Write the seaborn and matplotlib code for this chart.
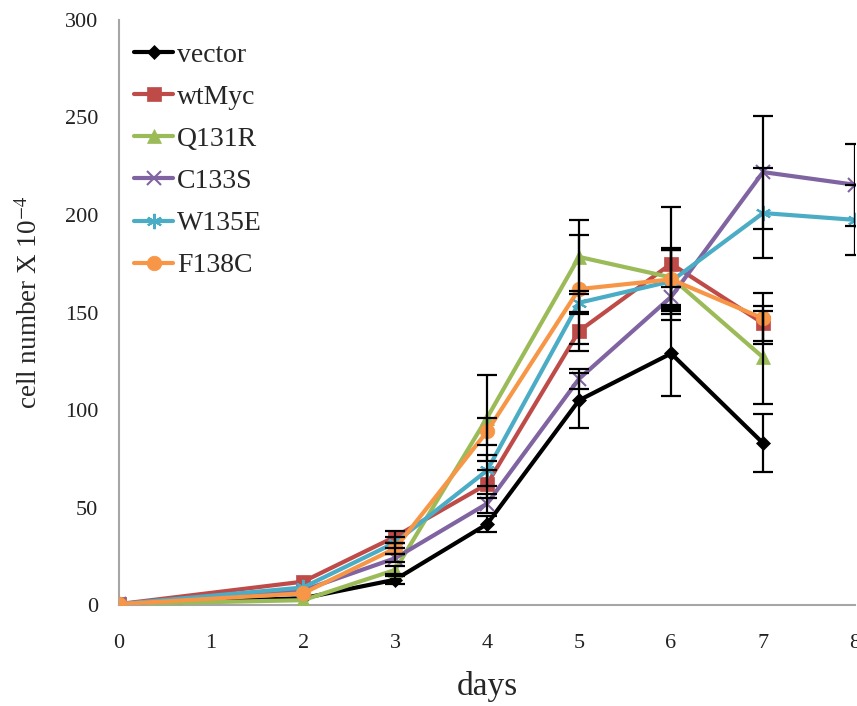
import numpy as np
import pandas as pd
import seaborn as sns
import matplotlib
matplotlib.use("Agg")
import matplotlib.pyplot as plt

days = [0, 2, 3, 4, 5, 6, 7, 8]
series_names = ["vector", "wtMyc", "Q131R", "C133S", "W135E", "F138C"]

vector = [0.5, 3.5, 13, 41.5, 105, 129, 83, np.nan]
wtMyc = [0.5, 12, 35, 62, 140.5, 175, 144.5, np.nan]
Q131R = [0.5, 2.5, 18, 96, 178.5, 168, 127, np.nan]
C133S = [0.5, 7.5, 24, 52, 116, 158, 222, 215.5]
W135E = [0.5, 9, 32, 69, 155, 166, 201, 197.5]
F138C = [0.5, 6, 29, 89, 162, 167, 147, np.nan]

vector_err = [0, 0, 2, 4, 14, 22, 15, np.nan]
wtMyc_err = [0, 0, 3, 7, 10, 29, 9, np.nan]
Q131R_err = [0, 0, 2, 22, 19, 14, 24, np.nan]
C133S_err = [0, 0, 2, 5, 5, 5, 29, 21]
W135E_err = [0, 0, 3, 8, 6, 17, 23, 18]
F138C_err = [0, 0, 3, 7, 28, 15, 13, np.nan]

values = [vector, wtMyc, Q131R, C133S, W135E, F138C]
errors = [vector_err, wtMyc_err, Q131R_err, C133S_err, W135E_err, F138C_err]

colors = ["#000000", "#BE4B48", "#9BBB59", "#8064A2", "#4BACC6", "#F79646"]
markers = ["D", "s", "^", "x", (6, 2, 0), "o"]
msizes = [7, 10.5, 10.5, 10, 11, 10.5]

rows = []
for name, vals in zip(series_names, values):
    for d, v in zip(days, vals):
        rows.append({"days": d, "value": v, "series": name})
df = pd.DataFrame(rows)

sns.set_style("white")
plt.rcParams["font.family"] = ["Liberation Serif", "DejaVu Serif"]
plt.rcParams["mathtext.fontset"] = "stix"

fig = plt.figure(figsize=(8.57, 7.06), dpi=100)
ax = fig.add_axes([0.139, 0.143, 0.8587, 0.8287])

for i, name in enumerate(series_names):
    sub = df[df["series"] == name].dropna()
    sns.lineplot(data=sub, x="days", y="value", ax=ax, color=colors[i],
                 marker=markers[i], markersize=msizes[i],
                 markeredgecolor=colors[i],
                 markeredgewidth=1.5 if i in (3, 4) else 0.5,
                 linewidth=3, label=name, zorder=3 + i * 0.01)

for i, name in enumerate(series_names):
    d = np.array(days, dtype=float)
    v = np.array(values[i], dtype=float)
    e = np.array(errors[i], dtype=float)
    m = np.isfinite(v) & np.isfinite(e) & (e > 0)
    ax.errorbar(d[m], v[m], yerr=e[m], fmt="none", ecolor="black",
                elinewidth=1.6, capsize=7, capthick=1.6, zorder=10)

ax.set_xlim(0, 8)
ax.set_ylim(0, 300)
ax.set_xticks(range(0, 9))
ax.set_yticks(range(0, 301, 50))
for sp in ["top", "right"]:
    ax.spines[sp].set_visible(False)
for sp in ["left", "bottom"]:
    ax.spines[sp].set_color("#A6A6A6")
    ax.spines[sp].set_linewidth(1.5)
ax.tick_params(axis="both", which="major", direction="out", length=5, width=1.2,
               color="#A6A6A6", labelsize=16, labelcolor="#222222")
ax.tick_params(axis="x", pad=16)
ax.tick_params(axis="y", pad=10)

ax.set_xlabel("days", fontsize=24, labelpad=13)
ax.set_ylabel("cell number X 10$^{-4}$", fontsize=19.5)
ax.yaxis.set_label_coords(-0.103, 0.518)

leg = ax.legend(loc="upper left", bbox_to_anchor=(-0.006, 0.995), frameon=False,
                fontsize=20, handlelength=1.4, handletextpad=0.15,
                labelspacing=0.6, borderaxespad=0.3)

fig.savefig("out.png", dpi=100)
